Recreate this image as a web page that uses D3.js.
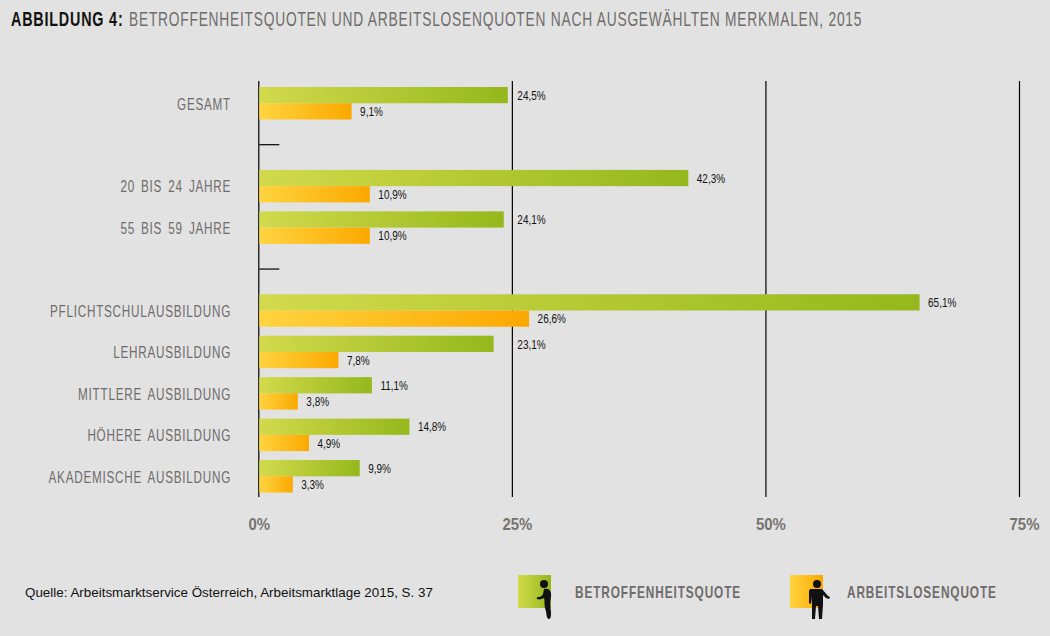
<!DOCTYPE html>
<html>
<head>
<meta charset="utf-8">
<script src="https://cdn.jsdelivr.net/npm/d3@7"></script>
<style>
  html, body { margin: 0; padding: 0; background: #e2e2e2; }
  svg { display: block; }
  text { font-family: "Liberation Sans", sans-serif; }
  .domain { display: none; }
</style>
</head>
<body>
<script>
// DATA
var categories = ["GESAMT", "", "20 BIS 24 JAHRE", "55 BIS 59 JAHRE", "",
  "PFLICHTSCHULAUSBILDUNG", "LEHRAUSBILDUNG", "MITTLERE AUSBILDUNG",
  "HÖHERE AUSBILDUNG", "AKADEMISCHE AUSBILDUNG"];
var betroffen = [24.5, null, 42.3, 24.1, null, 65.1, 23.1, 11.1, 14.8, 9.9];
var arbeitslos = [9.1, null, 10.9, 10.9, null, 26.6, 7.8, 3.8, 4.9, 3.3];
var xTicks = [0, 25, 50, 75];
var seriesNames = ["BETROFFENHEITSQUOTE", "ARBEITSLOSENQUOTE"];

var width = 1050, height = 636;
var gridTop = 81, gridBottom = 497;

var svg = d3.select("body").append("svg")
  .attr("width", width)
  .attr("height", height);

// no narrow font around, so squeeze the text horizontally
function squeeze(sel, k) {
  sel.each(function () {
    var t = d3.select(this);
    var px = +t.attr("x") || 0, py = +t.attr("y") || 0;
    t.attr("x", 0).attr("y", 0)
      .attr("transform", "translate(" + px + "," + py + ") scale(" + k + ",1)");
  });
}

// gradients for the bars and legend boxes
var defs = svg.append("defs");
function gradient(id, from, to) {
  var g = defs.append("linearGradient").attr("id", id);
  g.append("stop").attr("offset", "0%").attr("stop-color", from);
  g.append("stop").attr("offset", "100%").attr("stop-color", to);
}
gradient("green", "#d2da4b", "#95b81c");
gradient("orange", "#ffd43f", "#fba800");

var x = d3.scaleLinear().domain([0, 75]).range([259.3, 1020]);

// rows sit 41.45px apart, the bar pair takes 32.5 of it
var rowStep = 41.45, pairHeight = 32.5;
var y = d3.scaleBand()
  .domain(d3.range(categories.length))
  .range([87, 87 + rowStep * (categories.length - 1) + pairHeight])
  .paddingInner(1 - pairHeight / rowStep);

// GRID + X AXIS
var xAxis = svg.append("g")
  .attr("transform", "translate(0," + gridBottom + ")")
  .call(d3.axisBottom(x)
    .offset(-0.5)
    .tickValues(xTicks)
    .tickSize(-(gridBottom - gridTop))
    .tickPadding(20)
    .tickFormat(function (d) { return d + "%"; }));

xAxis.selectAll("line").attr("stroke", "#000").attr("stroke-width", 1.2);
xAxis.selectAll("text")
  .attr("fill", "#77736f")
  .attr("x", function (d) { return d > 0 ? 5 : 0.5; })
  .attr("y", 21)
  .attr("dy", ".71em")
  .style("font-size", "17px")
  .style("font-weight", "bold")
  .call(squeeze, 0.88);

// Y LABELS
var yAxis = svg.append("g")
  .attr("transform", "translate(231,0)")
  .call(d3.axisLeft(y)
    .tickSize(0)
    .tickPadding(0)
    .tickFormat(function (i) { return categories[i]; }));

yAxis.selectAll("text")
  .attr("fill", "#6f6c6b")
  .attr("dy", ".38em")
  .style("font-size", "16.5px")
  .style("letter-spacing", "1.05px")
  .style("word-spacing", "3px")
  .call(squeeze, 0.71);

// small ticks on the blank rows
svg.selectAll("line.gap")
  .data(d3.range(categories.length).filter(function (i) { return categories[i] === ""; }))
  .enter().append("line")
  .attr("class", "gap")
  .attr("x1", x(0))
  .attr("x2", x(0) + 20)
  .attr("y1", function (i) { return y(i) + y.bandwidth() / 2; })
  .attr("y2", function (i) { return y(i) + y.bandwidth() / 2; })
  .attr("stroke", "#000")
  .attr("stroke-width", 1.2);

// value labels that would sit on the 25% line go just past it
function labelX(v) {
  return v > 22 && v < 25 ? x(25) + 4.5 : x(v) + 8.5;
}

// BARS
function drawSeries(values, fill, offset) {
  var rows = d3.range(values.length).filter(function (i) { return values[i] !== null; });
  var h = y.bandwidth() / 2;

  svg.selectAll("rect." + fill)
    .data(rows)
    .enter().append("rect")
    .attr("class", fill)
    .attr("x", x(0))
    .attr("y", function (i) { return y(i) + offset * h; })
    .attr("width", function (i) { return x(values[i]) - x(0); })
    .attr("height", h)
    .attr("fill", "url(#" + fill + ")");

  svg.selectAll("text." + fill)
    .data(rows)
    .enter().append("text")
    .attr("class", fill)
    .attr("x", function (i) { return labelX(values[i]); })
    .attr("y", function (i) { return y(i) + offset * h + h / 2 + 0.5; })
    .attr("dy", ".35em")
    .attr("fill", "#111")
    .style("font-size", "12px")
    .text(function (i) { return String(values[i]).replace(".", ",") + "%"; })
    .call(squeeze, 0.83);
}
drawSeries(betroffen, "green", 0);
drawSeries(arbeitslos, "orange", 1);

// TITLE
svg.append("text")
  .attr("x", 11)
  .attr("y", 26)
  .attr("font-weight", "bold")
  .attr("fill", "#111")
  .style("font-size", "20.5px")
  .style("letter-spacing", "1.15px")
  .text("ABBILDUNG 4:")
  .call(squeeze, 0.7);

svg.append("text")
  .attr("x", 129)
  .attr("y", 26)
  .attr("fill", "#6f6c6b")
  .style("font-size", "20.5px")
  .style("letter-spacing", "1.15px")
  .text("BETROFFENHEITSQUOTEN UND ARBEITSLOSENQUOTEN NACH AUSGEWÄHLTEN MERKMALEN, 2015")
  .call(squeeze, 0.672);

// SOURCE
svg.append("text")
  .attr("x", 25)
  .attr("y", 597)
  .attr("fill", "#111")
  .style("font-size", "13.4px")
  .text("Quelle: Arbeitsmarktservice Österreich, Arbeitsmarktlage 2015, S. 37");

// LEGEND
var legend = svg.selectAll("g.legend")
  .data(seriesNames)
  .enter().append("g")
  .attr("class", "legend")
  .attr("transform", function (d, i) { return "translate(" + [518, 790][i] + ",575)"; });

legend.append("rect")
  .attr("width", 33)
  .attr("height", 33)
  .attr("fill", function (d, i) { return i === 0 ? "url(#green)" : "url(#orange)"; });

legend.append("text")
  .attr("x", 57)
  .attr("y", 17)
  .attr("dy", ".35em")
  .attr("fill", "#6f6c6b")
  .style("font-size", "16px")
  .style("font-weight", "bold")
  .style("letter-spacing", "1.2px")
  .text(function (d) { return d; })
  .call(squeeze, 0.74);

// little figures on the legend boxes
var bent = legend.filter(function (d, i) { return i === 0; }).append("g").attr("fill", "#111");
bent.append("circle").attr("cx", 26).attr("cy", 9).attr("r", 4);
bent.append("path")
  .attr("d", "M26 14 C30 13 34 15 33 22 C32 27 32 30 33 37 C33 41 33 44 31 44 C28 44 29 38 27 33 C26 29 27 26 26 23 C24 24 22 25 19 24 C18 23 19 22 20 22 C23 22 24 21 25 19 Z");

var stand = legend.filter(function (d, i) { return i === 1; }).append("g").attr("fill", "#111");
stand.append("circle").attr("cx", 27).attr("cy", 9).attr("r", 4);
stand.append("path")
  .attr("d", "M20 14 L32 14 L38 21 L40 22 L39 24 L36 23 L33 20 L33 29 L32 44 L29 44 L28 31 L26 31 L25 44 L22 44 L22 29 L21 21 L21 28 L20 29 L19 28 L19 16 Z");
</script>
</body>
</html>
